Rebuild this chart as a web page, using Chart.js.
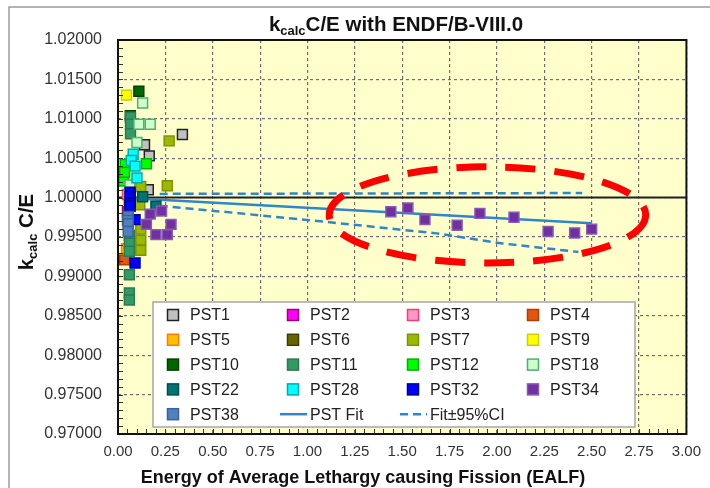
<!DOCTYPE html>
<html lang="en">
<head>
<meta charset="UTF-8" />
<title>kcalc C/E with ENDF/B-VIII.0</title>
<script src="https://cdn.jsdelivr.net/npm/chart.js"></script>
<style>
  html, body { margin: 0; padding: 0; background: #fff; }
</style>
</head>
<body>
<canvas id="myChart" width="710" height="488"></canvas>
<script>
// series names (legend order)
const seriesNames = ["PST1", "PST2", "PST3", "PST4", "PST5", "PST6", "PST7", "PST9",
  "PST10", "PST11", "PST12", "PST18", "PST22", "PST28", "PST32", "PST34", "PST38"];

// [EALF, kcalc C/E]
const pst1 = [[0.34, 1.0080], [0.14, 1.0067], [0.165, 1.0053], [0.16, 1.0010]];
const pst2 = [[0.05, 0.9982]];
const pst3 = [[0.05, 1.0004]];
const pst4 = [[0.035, 0.9921]];
const pst5 = [[0.045, 0.9935]];
const pst6 = [[0.06, 0.9990]];
const pst7 = [[0.27, 1.0072], [0.26, 1.0015], [0.12, 1.0014], [0.115, 0.9991], [0.12, 0.9960], [0.12, 0.9946], [0.12, 0.9933]];
const pst9 = [[0.045, 1.0130]];
const pst10 = [[0.11, 1.0135], [0.065, 1.0104]];
const pst11 = [[0.066, 1.0102], [0.066, 1.0093], [0.066, 1.0081], [0.06, 0.9952], [0.06, 0.9942],
  [0.06, 0.9932], [0.06, 0.9902], [0.06, 0.9879], [0.06, 0.9870]];
const pst12 = [[0.038, 1.0042], [0.15, 1.0043], [0.03, 1.0021], [0.035, 1.0032]];
const pst18 = [[0.13, 1.0120], [0.11, 1.0093], [0.17, 1.0093], [0.10, 1.0070], [0.063, 1.0016]];
const pst22 = [[0.13, 1.0001], [0.20, 0.9989]];
const pst28 = [[0.08, 1.0055], [0.07, 1.0047], [0.09, 1.0040], [0.10, 1.0025]];
const pst32 = [[0.064, 1.0007], [0.064, 1.0001], [0.064, 0.9993], [0.064, 0.9989], [0.09, 0.9972], [0.09, 0.9917]];
const pst34 = [[0.17, 0.9979], [0.23, 0.9983], [0.15, 0.9966], [0.28, 0.9966], [0.20, 0.9953], [0.26, 0.9953],
  [1.44, 0.9982], [1.53, 0.9987], [1.62, 0.9972], [1.79, 0.9965], [1.91, 0.9980], [2.09, 0.9975],
  [2.27, 0.9957], [2.41, 0.9955], [2.50, 0.9960]];
const pst38 = [[0.054, 0.9976], [0.05, 0.9971], [0.054, 0.9967], [0.054, 0.9957]];

const seriesData = [pst1, pst2, pst3, pst4, pst5, pst6, pst7, pst9, pst10, pst11, pst12,
  pst18, pst22, pst28, pst32, pst34, pst38];

// fit and confidence band
const fitX = [0.05, 2.50];
const fitY = [0.99995, 0.99675];
const ciUpperX = [0.22, 1.20, 2.45];
const ciUpperY = [1.00047, 1.00052, 1.00058];
const ciLowerX = [0.22, 0.64, 1.09, 1.68, 2.03, 2.43];
const ciLowerY = [0.99897, 0.99801, 0.99694, 0.99546, 0.99418, 0.99310];

// reference line at C/E = 1
const refX = [0, 3];
const refY = [1, 1];

// highlighted region (centre and half-axes in data units)
const ringCenter = [1.95, 0.9978];
const ringHalf = [0.835, 0.0061];

// styles
const seriesFill = ["#c0c0c0", "#ff00ff", "#ff99cc", "#e2570e", "#ffc000", "#666600", "#9cb800", "#ffff00",
  "#006600", "#339966", "#00ff00", "#ccffcc", "#007373", "#00ffff", "#0000ff", "#7030a0", "#4f81bd"];
const seriesEdge = ["#222222", "#a0007a", "#ff3b6b", "#b33d00", "#ff7a00", "#3d3d00", "#7c9400", "#c8d000",
  "#004000", "#2b7a52", "#00b400", "#4caf6e", "#004d4d", "#00aaaa", "#00008f", "#8859b5", "#3a62a0"];
const fitColor = "#2f86c8";
const FONT = "'Liberation Sans', Arial, sans-serif";

const toPts = (xs, ys) => xs.map((x, i) => ({ x: x, y: ys[i] }));

const datasets = seriesData.map((d, i) => ({
  label: seriesNames[i],
  data: d.map(p => ({ x: p[0], y: p[1] })),
  pointStyle: "rect",
  pointRadius: 7,
  pointBorderWidth: 1.5,
  backgroundColor: seriesFill[i],
  borderColor: seriesEdge[i],
  showLine: false,
  order: 100 - i
}));
datasets.push(
  { label: "PST Fit", data: toPts(fitX, fitY), showLine: true, borderColor: fitColor, borderWidth: 2.5, pointRadius: 0, order: 200 },
  { label: "Fit±95%CI", data: toPts(ciUpperX, ciUpperY), showLine: true, borderColor: fitColor, borderWidth: 2.5, borderDash: [8, 5], pointRadius: 0, order: 201 },
  { label: "Fit-95%CI", data: toPts(ciLowerX, ciLowerY), showLine: true, borderColor: fitColor, borderWidth: 2.5, borderDash: [8, 5], pointRadius: 0, order: 202 },
  { label: "C/E=1", data: toPts(refX, refY), showLine: true, borderColor: "#222", borderWidth: 2, pointRadius: 0, order: 300 }
);

// background, frame, minor ticks, legend box, highlight ring, titles
const decor = {
  id: "decor",
  beforeDraw(chart) {
    const { ctx, chartArea: a } = chart;
    ctx.save();
    ctx.fillStyle = "#fff";
    ctx.fillRect(0, 0, chart.width, chart.height);
    ctx.fillStyle = "#ffffcc";
    ctx.fillRect(a.left, a.top, a.right - a.left, a.bottom - a.top);
    ctx.strokeStyle = "#9a9a9a";
    ctx.lineWidth = 1.5;
    ctx.beginPath();
    ctx.moveTo(9, chart.height + 5); ctx.lineTo(9, 7); ctx.lineTo(chart.width + 5, 7);
    ctx.stroke();
    ctx.restore();
  },
  afterDatasetsDraw(chart) {
    const { ctx, chartArea: a, scales: { x, y } } = chart;
    ctx.save();
    // minor ticks, pointing in
    ctx.strokeStyle = "#333";
    ctx.lineWidth = 1;
    ctx.beginPath();
    for (let i = 0; i <= 50; i++) {
      const py = Math.round(y.getPixelForValue(0.97 + i * 0.001)) + 0.5;
      ctx.moveTo(a.left, py); ctx.lineTo(a.left + 5, py);
    }
    for (let i = 0; i <= 60; i++) {
      const px = Math.round(x.getPixelForValue(i * 0.05)) + 0.5;
      ctx.moveTo(px, a.bottom); ctx.lineTo(px, a.bottom - 5);
    }
    ctx.stroke();
    // plot frame
    ctx.strokeStyle = "#111";
    ctx.lineWidth = 2;
    ctx.strokeRect(a.left, a.top, a.right - a.left, a.bottom - a.top);

    // legend box
    const bx = a.left + 35, by = a.top + 262, bw = 482, bh = 125;
    ctx.fillStyle = "#fff";
    ctx.fillRect(bx, by, bw, bh);
    ctx.strokeStyle = "#a6a6a6";
    ctx.lineWidth = 1.5;
    ctx.strokeRect(bx, by, bw, bh);
    ctx.font = "16px " + FONT;
    ctx.textBaseline = "middle";
    ctx.textAlign = "left";
    const items = chart.data.datasets.filter(d => d.label !== "Fit-95%CI" && d.label !== "C/E=1");
    items.forEach((d, k) => {
      const col = k % 4, row = Math.floor(k / 4);
      const cx = bx + 20 + col * 120;
      const cy = by + 13 + row * 24.8;
      if (d.showLine) {
        ctx.strokeStyle = d.borderColor;
        ctx.lineWidth = 2.5;
        ctx.setLineDash(d.borderDash || []);
        ctx.beginPath();
        ctx.moveTo(cx - 13, cy); ctx.lineTo(cx + 14, cy);
        ctx.stroke();
        ctx.setLineDash([]);
      } else {
        ctx.fillStyle = d.backgroundColor;
        ctx.fillRect(cx - 5.5, cy - 5.5, 11, 11);
        ctx.strokeStyle = d.borderColor;
        ctx.lineWidth = 1.5;
        ctx.strokeRect(cx - 5.5, cy - 5.5, 11, 11);
      }
      ctx.fillStyle = "#222";
      ctx.fillText(d.label, cx + 17, cy + 1);
    });

    // dashed red ring
    const ex = x.getPixelForValue(ringCenter[0]);
    const ey = y.getPixelForValue(ringCenter[1]);
    const rx = x.getPixelForValue(ringCenter[0] + ringHalf[0]) - ex;
    const ry = ey - y.getPixelForValue(ringCenter[1] + ringHalf[1]);
    ctx.strokeStyle = "#ff0000";
    ctx.lineWidth = 7;
    ctx.setLineDash([30, 19]);
    ctx.beginPath();
    ctx.ellipse(ex, ey, rx, ry, 0, 0, Math.PI * 2);
    ctx.stroke();
    ctx.restore();
  },
  afterDraw(chart) {
    const { ctx, chartArea: a } = chart;
    ctx.save();
    ctx.fillStyle = "#111";
    ctx.textBaseline = "alphabetic";
    ctx.textAlign = "left";
    // chart title with subscript
    const big = "bold 20.5px " + FONT, small = "bold 13px " + FONT;
    ctx.font = big;
    const wk = ctx.measureText("k").width;
    const wRest = ctx.measureText("C/E with ENDF/B-VIII.0").width;
    ctx.font = small;
    const wSub = ctx.measureText("calc").width;
    let tx = 396 - (wk + wSub + wRest) / 2;
    const tb = 31;
    ctx.font = big; ctx.fillText("k", tx, tb); tx += wk;
    ctx.font = small; ctx.fillText("calc", tx, tb + 4); tx += wSub;
    ctx.font = big; ctx.fillText("C/E with ENDF/B-VIII.0", tx, tb);

    // y axis title, rotated
    ctx.translate(33, 232);
    ctx.rotate(-Math.PI / 2);
    ctx.font = big;
    const yk = ctx.measureText("k").width, yRest = ctx.measureText(" C/E").width;
    ctx.font = small;
    const ySub = ctx.measureText("calc").width;
    let ty = -(yk + ySub + yRest) / 2;
    ctx.font = big; ctx.fillText("k", ty, 0); ty += yk;
    ctx.font = small; ctx.fillText("calc", ty, 4); ty += ySub;
    ctx.font = big; ctx.fillText(" C/E", ty, 0);
    ctx.setTransform(1, 0, 0, 1, 0, 0);

    // x axis title
    ctx.font = "bold 18px " + FONT;
    ctx.textAlign = "center";
    ctx.fillText("Energy of Average Lethargy causing Fission (EALF)", 363, 483);
    ctx.restore();
  }
};

const ctx = document.getElementById("myChart").getContext("2d");
const myChart = new Chart(ctx, {
  type: "scatter",
  data: { datasets: datasets },
  options: {
    responsive: false,
    animation: false,
    devicePixelRatio: 1,
    layout: { padding: { top: 40, right: 16, left: 0, bottom: 0 } },
    plugins: {
      legend: { display: false },
      title: { display: false },
      tooltip: { enabled: false }
    },
    scales: {
      x: {
        type: "linear",
        min: 0,
        max: 3,
        ticks: {
          stepSize: 0.25,
          autoSkip: false,
          maxRotation: 0,
          padding: 9,
          color: "#333",
          font: { family: FONT, size: 15 },
          callback: v => v.toFixed(2)
        },
        grid: { color: "#6e6e6e", lineWidth: 1.2, drawTicks: false },
        border: { display: false, dash: [3, 3] },
        afterFit: s => { s.height = 54; }
      },
      y: {
        min: 0.97,
        max: 1.02,
        ticks: {
          stepSize: 0.005,
          padding: 16,
          color: "#333",
          font: { family: FONT, size: 16 },
          callback: v => v.toFixed(5)
        },
        grid: { color: "#6e6e6e", lineWidth: 1.2, drawTicks: false },
        border: { display: false, dash: [3, 3] },
        afterFit: s => { s.width = 118; }
      }
    }
  },
  plugins: [decor]
});
</script>
</body>
</html>
